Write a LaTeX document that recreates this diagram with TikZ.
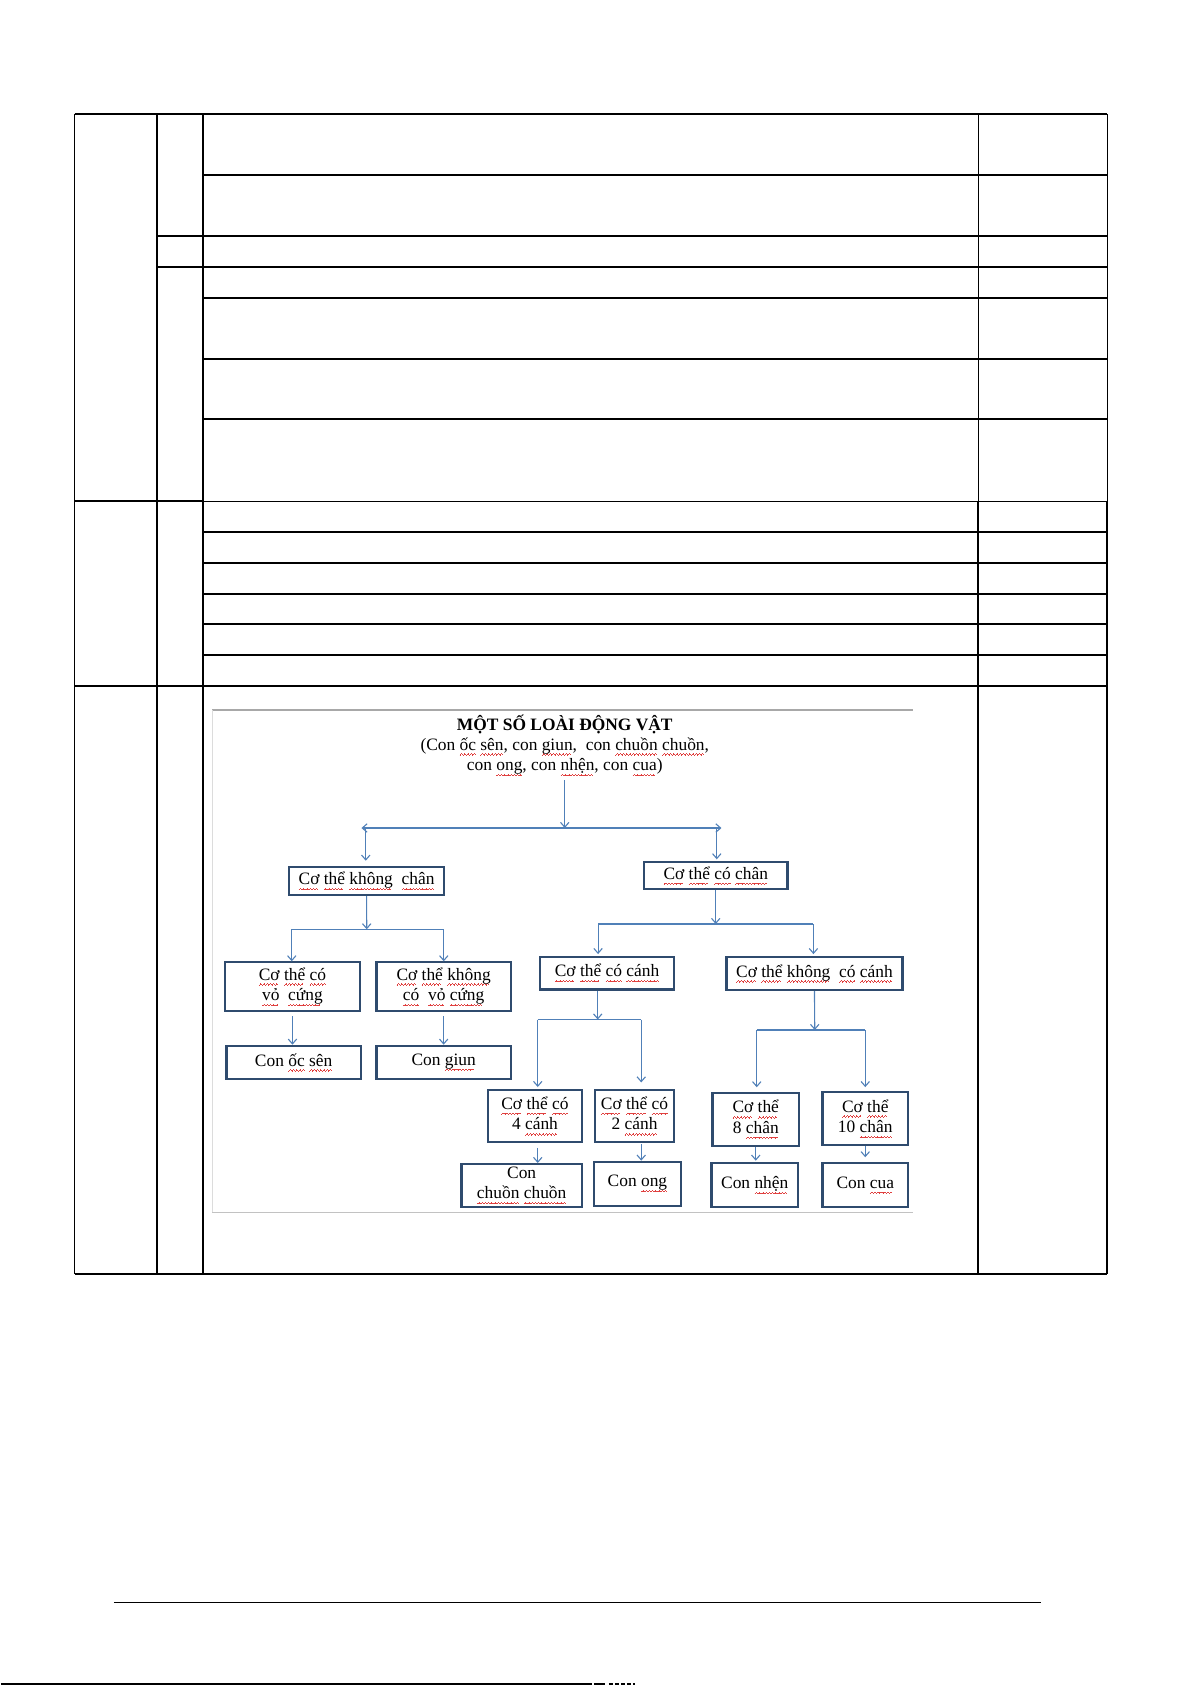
\documentclass[tikz,border=0pt]{standalone}
\usepackage{fontspec}
\setmainfont{Liberation Serif}
\usepackage{tikz}
\usetikzlibrary{arrows.meta,calc}
\definecolor{boxline}{HTML}{2F4B6E}
\definecolor{linkblue}{HTML}{5080B8}
\definecolor{frame}{HTML}{A8A8A8}
\definecolor{wavered}{HTML}{E0403F}
\newcommand\dsize{\fontsize{8.7}{10.3}\selectfont}
\newsavebox\sqbox
\newcommand\wavebit{\hbox{\rule[-2.7pt]{0.4pt}{0.35pt}\rule[-2.35pt]{0.4pt}{0.35pt}\rule[-2pt]{0.4pt}{0.35pt}\rule[-2.35pt]{0.4pt}{0.35pt}}}
\newcommand\sq[1]{\sbox\sqbox{#1}\leavevmode\rlap{\hbox to\wd\sqbox{\color{wavered}\leaders\wavebit\hfill}}\usebox\sqbox}

\begin{document}
\begin{tikzpicture}[x=0.5pt,y=-0.5pt,
  font=\dsize,
  tk/.style={line width=0.9pt},
  tn/.style={line width=0.5pt},
  tbox/.style={draw=boxline,line width=1.05pt,fill=white,inner sep=0pt,align=center},
  wh/.style 2 args={minimum width=#1*0.5pt,minimum height=#2*0.5pt},
  hd/.style={inner sep=0pt,anchor=base},
  bar/.style={draw=linkblue,line width=0.55pt},
  arr/.style={bar,-{Straight Barb[length=2.4pt,width=4.2pt]}},
  dbl/.style={bar,{Straight Barb[length=2.4pt,width=4.2pt]}-{Straight Barb[length=2.4pt,width=4.2pt]}}
]
\fill[white] (0,0) rectangle (1191,1685);

% ---- table frame
\draw[tk] (73.8,113.8) -- (1106.3,113.8);
\draw[tk] (73.8,113.8) -- (73.8,1274);
\draw[tk] (73.8,1274) -- (1106.3,1274);
\draw[tn] (1106.3,113.8) -- (1106.3,501);
\draw[tk] (1106.3,501) -- (1106.3,1274);
\draw[tk] (156,113.8) -- (156,1274);
\draw[tk] (202,113.8) -- (202,1274);
\draw[tn] (978,113.8) -- (978,501);
\draw[tk] (977.5,501) -- (977.5,1274);
% ---- table rows
\draw[tk] (202,174.8) -- (1106.3,174.8);
\foreach \y in {236,267}
  \draw[tk] (156,\y) -- (1106.3,\y);
\foreach \y in {298.2,359.2,419,531.8,563.2,593.8,624.3,655}
  \draw[tk] (202,\y) -- (1106.3,\y);
\draw[tk] (73.8,501) -- (202,501);
\draw[tn] (202,501) -- (1106.3,501);
\draw[tk] (73.8,686) -- (1106.3,686);

% ---- pasted picture frame
\draw[frame,line width=0.85pt] (211.7,710) -- (912,710);
\draw[frame!70,line width=0.5pt] (211.7,1212) -- (912,1212);
\draw[frame!40,line width=0.4pt] (211.7,710) -- (211.7,1212);

% ---- heading
\node[hd,font=\dsize\bfseries] (title) at (564,730.5) {MỘT SỐ LOÀI ĐỘNG VẬT};
\node[hd] (list1) at (564,750) {(Con \sq{ốc} \sq{sên}, con \sq{giun},~ con \sq{chuồn} \sq{chuồn},};
\node[hd] (list2) at (564,770.5) {con \sq{ong}, con \sq{nhện}, con \sq{cua})};

% ---- level 1
\node[tbox,wh={155}{28.3}] (nolegs) at (365.8,880.9) {\sq{Cơ} \sq{thể} \sq{không}~ \sq{chân}};
\node[tbox,wh={143.4}{26.7}] (legs) at (715,875.7) {\sq{Cơ} \sq{thể} \sq{có} \sq{chân}};

% ---- level 2
\node[tbox,wh={134.7}{48.7}] (shell) at (291.7,986.7) {\sq{Cơ} \sq{thể} \sq{có}\\\sq{vỏ}~ \sq{cứng}};
\node[tbox,wh={134.3}{48.7}] (noshell) at (442.9,986.7) {\sq{Cơ} \sq{thể} \sq{không}\\\sq{có}~ \sq{vỏ} \sq{cứng}};
\node[tbox,wh={134}{32.8}] (wings) at (606.3,973.1) {\sq{Cơ} \sq{thể} \sq{có} \sq{cánh}};
\node[tbox,wh={176}{33.3}] (nowings) at (813.7,973.4) {\sq{Cơ} \sq{thể} \sq{không}~ \sq{có} \sq{cánh}};

% ---- level 3
\node[tbox,wh={134.3}{33.3}] (snail) at (292.9,1062.4) {Con \sq{ốc} \sq{sên}};
\node[tbox,wh={134.3}{33.3}] (worm) at (442.9,1062.4) {Con \sq{giun}};
\node[tbox,wh={93.7}{51.7}] (wing4) at (534.2,1115.9) {\sq{Cơ} \sq{thể} \sq{có}\\4 \sq{cánh}};
\node[tbox,wh={79}{51.7}] (wing2) at (633.8,1115.9) {\sq{Cơ} \sq{thể} \sq{có}\\2 \sq{cánh}};
\node[tbox,wh={86.6}{52.4}] (leg8) at (755,1119.5) {\sq{Cơ} \sq{thể}\\8 \sq{chân}};
\node[tbox,wh={85.6}{52.7}] (leg10) at (864.5,1118.7) {\sq{Cơ} \sq{thể}\\10 \sq{chân}};

% ---- level 4
\node[tbox,wh={120.3}{42.7}] (dragonfly) at (520.9,1185.4) {Con\\\sq{chuồn} \sq{chuồn}};
\node[tbox,wh={86.7}{44}] (bee) at (636.7,1183.7) {Con \sq{ong}};
\node[tbox,wh={86.6}{44}] (spider) at (754,1185.3) {Con \sq{nhện}};
\node[tbox,wh={85.6}{44}] (crab) at (864.5,1185.3) {Con \sq{cua}};

% ---- split under heading
\coordinate (t0) at (564,828);
\coordinate (tl) at (360.7,828);
\coordinate (tr) at (720.7,828);
\coordinate (ta) at (365,828);
\coordinate (tb) at (716,828);
\draw[arr] ($(list2.south)+(0,4)$) -- (t0);
\draw[dbl] (tl) -- (tr);
\draw[arr,shorten >=2.5pt] (ta) -- (ta |- nolegs.north);
\draw[arr,shorten >=1pt] (tb) -- (tb |- legs.north);

% ---- split under nolegs
\coordinate (a0) at (366,929.3);
\coordinate (al) at (291,929.3);
\coordinate (ar) at (443,929.3);
\draw[arr] (nolegs.south) -- (a0);
\draw[bar] (al) -- (ar);
\draw[arr] (al) -- (al |- shell.north);
\draw[arr] (ar) -- (ar |- noshell.north);
\draw[arr,shorten <=2pt] (shell.south) -- (shell.south |- snail.north);
\draw[arr,shorten <=2pt] (noshell.south) -- (noshell.south |- worm.north);

% ---- split under legs
\coordinate (b0) at (715,924);
\coordinate (bl) at (597.3,924);
\coordinate (br) at (812.7,924);
\draw[arr] (legs.south) -- (b0);
\draw[bar] (bl) -- (br);
\draw[arr,shorten >=0.8pt] (bl) -- (bl |- wings.north);
\draw[arr,shorten >=0.8pt] (br) -- (br |- nowings.north);

% ---- split under wings
\coordinate (e0) at (597,1019.5);
\coordinate (el) at (537,1019.5);
\coordinate (er) at (640.5,1019.5);
\draw[arr] (e0 |- wings.south) -- (e0);
\draw[bar] (el) -- (er);
\draw[arr,shorten >=1pt] (el) -- (el |- wing4.north);
\draw[arr,shorten >=3.3pt] (er) -- (er |- wing2.north);
\draw[arr,shorten <=2.5pt] (el |- wing4.south) -- (el |- dragonfly.north);
\draw[arr,shorten <=0.6pt] (er |- wing2.south) -- (er |- bee.north);

% ---- split under nowings
\coordinate (f0) at (814,1030);
\coordinate (fl) at (756,1030);
\coordinate (fr) at (864.5,1030);
\draw[arr] (nowings.south) -- (f0);
\draw[bar] (fl) -- (fr);
\draw[arr,shorten >=2.5pt] (fl) -- (fl |- leg8.north);
\draw[arr,shorten >=2.1pt] (fr) -- (fr |- leg10.north);
\draw[arr,shorten >=0.8pt] (leg8.south) -- (leg8.south |- spider.north);
\draw[arr,shorten >=2.5pt] (leg10.south) -- (leg10.south |- crab.north);

% ---- page footer
\draw[line width=0.55pt] (113,1602.3) -- (1040.5,1602.3);
\draw[line width=0.75pt] (0,1684) -- (591,1684);
\draw[line width=0.75pt] (593,1684) -- (604,1684);
\draw[line width=0.75pt,dash pattern=on 2pt off 1pt] (608,1684) -- (634,1684);
\end{tikzpicture}
\end{document}
